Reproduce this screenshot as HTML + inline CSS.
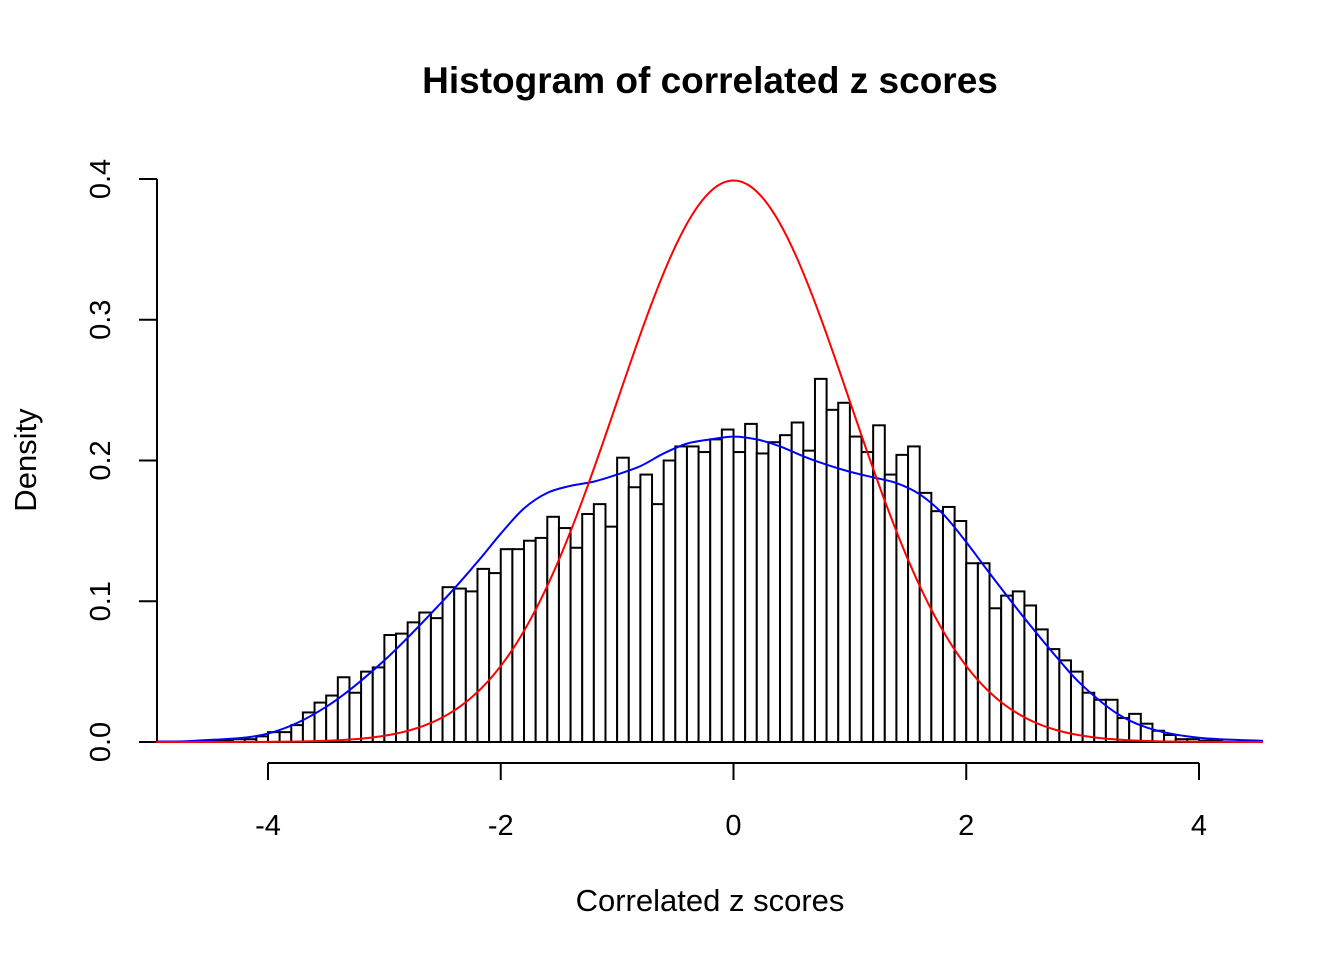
<!DOCTYPE html>
<html><head><meta charset="utf-8"><style>body{margin:0;background:#fff}svg{display:block}text{font-family:"Liberation Sans",Arial,sans-serif}</style></head>
<body>
<svg id="chart" width="1344" height="960" xmlns="http://www.w3.org/2000/svg">
<text x="710" y="93" font-size="37" font-weight="bold" text-anchor="middle">Histogram of correlated z scores</text>
<text x="710" y="911" font-size="31" text-anchor="middle">Correlated z scores</text>
<text transform="translate(36,460) rotate(-90)" font-size="31" text-anchor="middle">Density</text>
<g id="bars"></g><g id="axes"></g><g id="lines"></g>
</svg>
<script>
const binStart = -4.6;
const binWidth = 0.1;
const densities = [0.001,0.001,0.001,0.002,0.002,0.004,0.007,0.007,0.012,0.021,0.028,0.033,0.046,0.035,0.05,0.053,0.076,0.077,0.085,0.092,0.088,0.11,0.109,0.107,0.123,0.12,0.137,0.137,0.143,0.145,0.16,0.152,0.138,0.162,0.169,0.153,0.202,0.181,0.19,0.169,0.2,0.21,0.21,0.206,0.215,0.222,0.206,0.226,0.205,0.213,0.218,0.227,0.207,0.258,0.236,0.241,0.217,0.206,0.225,0.19,0.204,0.21,0.177,0.164,0.167,0.157,0.127,0.127,0.095,0.104,0.107,0.097,0.08,0.066,0.058,0.05,0.035,0.03,0.03,0.017,0.02,0.013,0.008,0.005,0.002,0.002,0.001,0.001];
const kdeX = [-4.96,-4.6,-4,-3.5,-3,-2.5,-2.2,-2,-1.8,-1.6,-1.4,-1.2,-1,-0.8,-0.6,-0.4,-0.2,0,0.2,0.4,0.6,0.8,1,1.2,1.4,1.6,1.8,2,2.2,2.5,2.8,3,3.3,3.6,4,4.55];
const kdeY = [0.0003,0.001,0.006,0.025,0.058,0.1,0.128,0.148,0.166,0.177,0.182,0.185,0.19,0.196,0.205,0.212,0.215,0.217,0.215,0.21,0.203,0.197,0.192,0.188,0.184,0.176,0.162,0.142,0.12,0.088,0.058,0.04,0.02,0.009,0.003,0.0008];
const normMean = 0, normSd = 1;
const xTicks = [-4,-2,0,2,4];
const yTicks = [0,0.1,0.2,0.3,0.4];
const yTickLabels = ["0.0","0.1","0.2","0.3","0.4"];
const xRange = [-4.96, 4.55];

const X = v => 733.5 + v*116.375;
const Y = v => 742 - v*1407.5;
const NS = "http://www.w3.org/2000/svg";
function mk(tag, attrs, parent){const e=document.createElementNS(NS,tag);for(const k in attrs)e.setAttribute(k,attrs[k]);parent.appendChild(e);return e;}
const bars=document.getElementById('bars'), axes=document.getElementById('axes'), lines=document.getElementById('lines');
densities.forEach((d,i)=>{
  const x0=X(binStart+i*binWidth), x1=X(binStart+(i+1)*binWidth);
  const r=mk('rect',{x:x0,y:Y(d),width:x1-x0,height:Y(0)-Y(d),fill:'#fff',stroke:'#000','stroke-width':2},bars);
  
  
});
let l=mk('line',{x1:X(xTicks[0]),x2:X(xTicks[xTicks.length-1]),y1:763,y2:763,stroke:'#000','stroke-width':2},axes);


xTicks.forEach(t=>{
  const tk=mk('line',{x1:X(t),x2:X(t),y1:763,y2:780,stroke:'#000','stroke-width':2},axes);
  
  
  const tx=mk('text',{x:X(t),y:835,'font-size':29,'text-anchor':'middle'},axes);
  tx.textContent=String(t);
  
  
});
l=mk('line',{x1:157,x2:157,y1:Y(yTicks[0]),y2:Y(yTicks[yTicks.length-1]),stroke:'#000','stroke-width':2},axes);


yTicks.forEach((t,i)=>{
  const tk=mk('line',{x1:139,x2:157,y1:Y(t),y2:Y(t),stroke:'#000','stroke-width':2},axes);
  
  
  const tx=mk('text',{transform:`translate(110,${Y(t)}) rotate(-90)`,'font-size':29,'text-anchor':'middle'},axes);
  tx.textContent=yTickLabels[i];
  
  
});
l=mk('line',{x1:X(xRange[0]),x2:X(xRange[1]),y1:Y(0),y2:Y(0),stroke:'#000','stroke-width':2},axes);


const kp=kdeX.map((x,i)=>[X(x),Y(kdeY[i])]);
let d=`M${kp[0][0]},${kp[0][1]}`;
for(let i=0;i<kp.length-1;i++){const p0=kp[Math.max(0,i-1)],p1=kp[i],p2=kp[i+1],p3=kp[Math.min(kp.length-1,i+2)];
  d+=` C${p1[0]+(p2[0]-p0[0])/6},${p1[1]+(p2[1]-p0[1])/6} ${p2[0]-(p3[0]-p1[0])/6},${p2[1]-(p3[1]-p1[1])/6} ${p2[0]},${p2[1]}`;}
const kde=mk('path',{d:d,fill:'none',stroke:'#0000ff','stroke-width':2},lines);


let nd='';
for(let i=0;i<=300;i++){const x=xRange[0]+(xRange[1]-xRange[0])*i/300;const z=(x-normMean)/normSd;const y=Math.exp(-z*z/2)/(normSd*Math.sqrt(2*Math.PI));nd+=(i?'L':'M')+X(x)+','+Y(y);}
const nrm=mk('path',{d:nd,fill:'none',stroke:'#ff0000','stroke-width':2},lines);


</script>
</body></html>
